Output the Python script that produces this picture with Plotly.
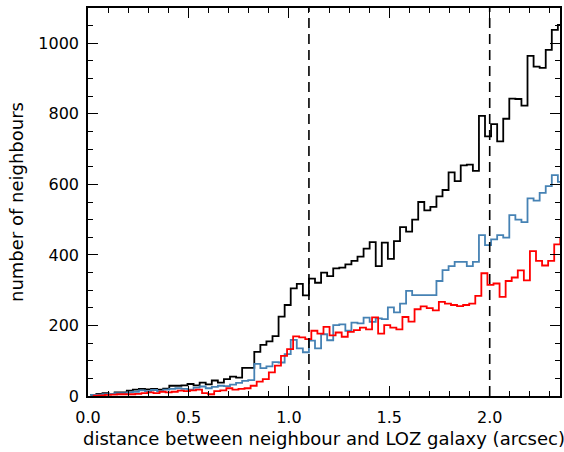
import plotly.graph_objects as go

# ---- data ----
bin_width = 0.03023
start_black_blue = 0.0117
start_red = 0.0237

black_counts = [3, 6, 8, 6, 10, 10, 15, 18, 20, 19, 20, 18, 21, 29, 29, 30, 34, 30, 38, 33,
                44, 38, 48, 55, 52, 80, 80, 125, 145, 155, 170, 225, 258, 305, 318, 285, 333, 321, 350, 340,
                362, 364, 373, 383, 395, 418, 436, 368, 435, 389, 439, 479, 466, 500, 550, 526, 536, 566, 584, 634,
                609, 654, 656, 638, 794, 736, 771, 722, 786, 843, 842, 823, 964, 934, 930, 981, 1038, 1052]

blue_counts = [3, 4, 5, 6, 8, 8, 10, 12, 16, 14, 17, 14, 18, 20, 22, 20, 18, 24, 27, 22,
               26, 29, 28, 32, 37, 43, 45, 91, 79, 84, 96, 95, 119, 159, 135, 124, 157, 135, 175, 158,
               201, 203, 185, 208, 206, 222, 210, 220, 218, 251, 237, 262, 298, 286, 286, 286, 286, 326, 357, 368,
               380, 380, 368, 380, 456, 428, 444, 456, 449, 513, 500, 493, 560, 554, 576, 595, 626, 607]

red_counts = [1, 2, 3, 4, 5, 5, 5, 6, 8, 10, 8, 12, 10, 12, 15, 14, 16, 18, 8, 5,
              14, 16, 22, 18, 20, 22, 29, 41, 48, 67, 86, 114, 133, 169, 166, 161, 185, 177, 196, 172,
              180, 168, 182, 187, 194, 189, 223, 177, 201, 194, 189, 224, 211, 246, 254, 249, 243, 267, 262, 258,
              255, 258, 262, 284, 348, 315, 319, 281, 326, 336, 356, 328, 411, 383, 370, 383, 430, 446]

vlines_x = [1.1, 2.0]
x_ticks = [0.0, 0.5, 1.0, 1.5, 2.0]
y_ticks = [0, 200, 400, 600, 800, 1000]


def step_xy(start, counts):
    xs = [start + bin_width * i for i in range(len(counts) + 1)]
    ys = list(counts) + [counts[-1]]
    return xs, ys


fig = go.Figure()
for counts, start, color in [
    (black_counts, start_black_blue, "black"),
    (blue_counts, start_black_blue, "#4682b4"),
    (red_counts, start_red, "#ff0000"),
]:
    xs, ys = step_xy(start, counts)
    fig.add_trace(go.Scatter(x=xs, y=ys, mode="lines", line=dict(color=color, width=1.8, shape="hv"),
                             showlegend=False, hoverinfo="skip"))

for xv in vlines_x:
    fig.add_shape(type="line", x0=xv, x1=xv, y0=0, y1=1, xref="x", yref="paper",
                  line=dict(color="black", width=1.6, dash="10px,6px"))

font = dict(family="DejaVu Sans", size=16, color="black")
title_font = dict(family="DejaVu Sans", size=18, color="black")

fig.update_layout(
    width=564, height=452,
    margin=dict(l=88, r=2, t=8, b=56),
    paper_bgcolor="white", plot_bgcolor="white",
    font=font,
    xaxis=dict(
        range=[0, 2.35], tickvals=x_ticks, ticktext=[f"{v:.1f}" for v in x_ticks],
        ticks="inside", ticklen=10, tickwidth=1.3, tickcolor="black",
        minor=dict(dtick=0.1, tick0=0, ticks="inside", ticklen=5, tickwidth=1.3, tickcolor="black"),
        showline=True, linecolor="black", linewidth=1.5, mirror="ticks",
        showgrid=False, zeroline=False,
        title=dict(text="distance between neighbour and LOZ galaxy (arcsec)", font=title_font, standoff=6),
        tickfont=dict(family="DejaVu Sans", size=16, color="black"), ticklabelstandoff=6,
    ),
    yaxis=dict(
        range=[0, 1100], tickvals=y_ticks,
        ticks="inside", ticklen=10, tickwidth=1.3, tickcolor="black",
        minor=dict(dtick=50, tick0=0, ticks="inside", ticklen=5, tickwidth=1.3, tickcolor="black"),
        showline=True, linecolor="black", linewidth=1.5, mirror="ticks",
        showgrid=False, zeroline=False,
        title=dict(text="number of neighbours", font=title_font, standoff=10),
        tickfont=dict(family="DejaVu Sans", size=16, color="black"), ticklabelstandoff=4,
    ),
)

fig.write_html("out.html")
